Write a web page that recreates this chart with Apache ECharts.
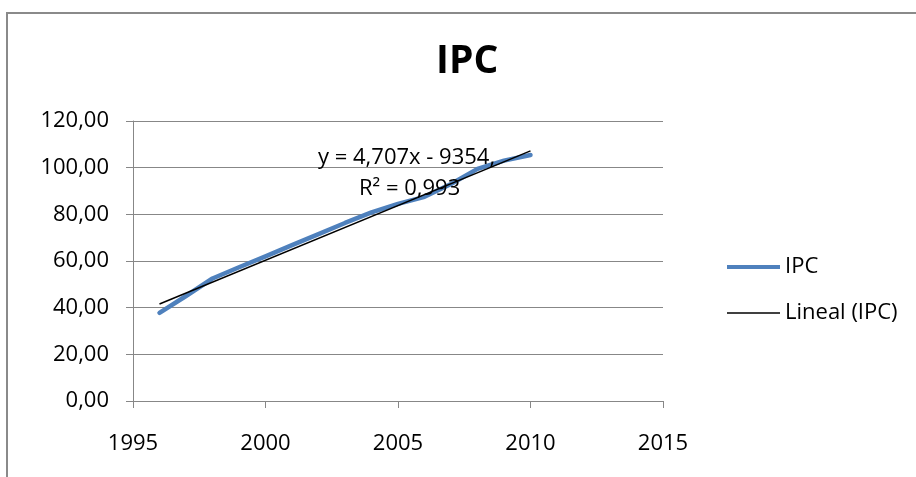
<!DOCTYPE html>
<html>
<head>
<meta charset="utf-8">
<title>IPC</title>
<script src="https://cdn.jsdelivr.net/npm/echarts@6/dist/echarts.min.js"></script>
<style>
  html, body { margin: 0; padding: 0; background: #fff; }
  #main { width: 916px; height: 477px; }
</style>
</head>
<body>
<div id="main"></div>
<script>
// datos
var years = [1996, 1997, 1998, 1999, 2000, 2001, 2002, 2003, 2004, 2005, 2006, 2007, 2008, 2009, 2010];
var ipc = [37.8, 45.0, 52.5, 57.3, 62.0, 66.8, 71.5, 76.3, 80.8, 84.5, 87.5, 93.0, 99.5, 103.0, 105.4];
var trendYears = [1996, 2010];
var trendValues = [41.6, 107.2];
var xTicks = [1995, 2000, 2005, 2010, 2015];
var yTicks = [0, 20, 40, 60, 80, 100, 120];
var eqLines = ['y = 4,707x - 9354,', 'R² = 0,993'];

var fontName = "'Open Sans', 'Liberation Sans', sans-serif";

var ipcData = [];
for (var i = 0; i < years.length; i++) ipcData.push([years[i], ipc[i]]);
var trendData = [];
for (var j = 0; j < trendYears.length; j++) trendData.push([trendYears[j], trendValues[j]]);

var myChart = echarts.init(document.getElementById('main'));

var option = {
    animation: false,
    backgroundColor: '#ffffff',
    title: {
        text: 'IPC',
        left: 436,
        top: 42,
        padding: 0,
        textStyle: { fontFamily: fontName, fontSize: 39, fontWeight: 'bold', color: '#000' }
    },
    grid: { left: 133, right: 253, top: 121, bottom: 76 },
    legend: [
        {
            data: ['IPC'],
            orient: 'vertical',
            left: 722,
            top: 251,
            icon: 'rect',
            itemWidth: 53,
            itemHeight: 4,
            itemGap: 4,
            textStyle: { fontFamily: fontName, fontSize: 22, color: '#000' }
        },
        {
            data: ['Lineal (IPC)'],
            orient: 'vertical',
            left: 722,
            top: 297,
            icon: 'rect',
            itemWidth: 53,
            itemHeight: 1.5,
            itemGap: 4,
            textStyle: { fontFamily: fontName, fontSize: 22, color: '#000' }
        }
    ],
    xAxis: {
        type: 'value',
        min: xTicks[0],
        max: xTicks[xTicks.length - 1],
        interval: 5,
        axisLine: { show: true, lineStyle: { color: '#878787', width: 1 } },
        axisTick: { show: true, length: 7, lineStyle: { color: '#878787' } },
        splitLine: { show: false },
        axisLabel: {
            fontFamily: fontName, fontSize: 22, color: '#000', margin: 32,
            formatter: function (v) { return String(v); }
        }
    },
    yAxis: {
        type: 'value',
        min: yTicks[0],
        max: yTicks[yTicks.length - 1],
        interval: 20,
        axisLine: { show: true, lineStyle: { color: '#878787', width: 1 } },
        axisTick: { show: true, length: 7, lineStyle: { color: '#878787' } },
        splitLine: { show: true, lineStyle: { color: '#878787', width: 1 } },
        axisLabel: {
            fontFamily: fontName, fontSize: 22, color: '#000', margin: 24,
            formatter: function (v) { return v.toFixed(2).replace('.', ','); }
        }
    },
    series: [
        {
            name: 'IPC',
            type: 'line',
            data: ipcData,
            showSymbol: false,
            lineStyle: { color: '#4f81bd', width: 4.5, cap: 'round', join: 'round' },
            itemStyle: { color: '#4f81bd' },
            z: 2
        },
        {
            name: 'Lineal (IPC)',
            type: 'line',
            data: trendData,
            showSymbol: false,
            lineStyle: { color: '#000', width: 1.5 },
            itemStyle: { color: '#000' },
            z: 3
        }
    ],
    graphic: [
        {
            type: 'rect',
            shape: { x: 7, y: 13, width: 1000, height: 600 },
            style: { fill: 'none', stroke: '#8a8a8a', lineWidth: 2 },
            silent: true
        },
        {
            type: 'text',
            left: 318,
            top: 147,
            z: 10,
            style: { text: eqLines[0], fontFamily: fontName, fontSize: 22, fill: '#000' }
        },
        {
            type: 'text',
            left: 359,
            top: 178,
            z: 10,
            style: { text: eqLines[1], fontFamily: fontName, fontSize: 22, fill: '#000' }
        }
    ]
};

myChart.setOption(option);
</script>
</body>
</html>
